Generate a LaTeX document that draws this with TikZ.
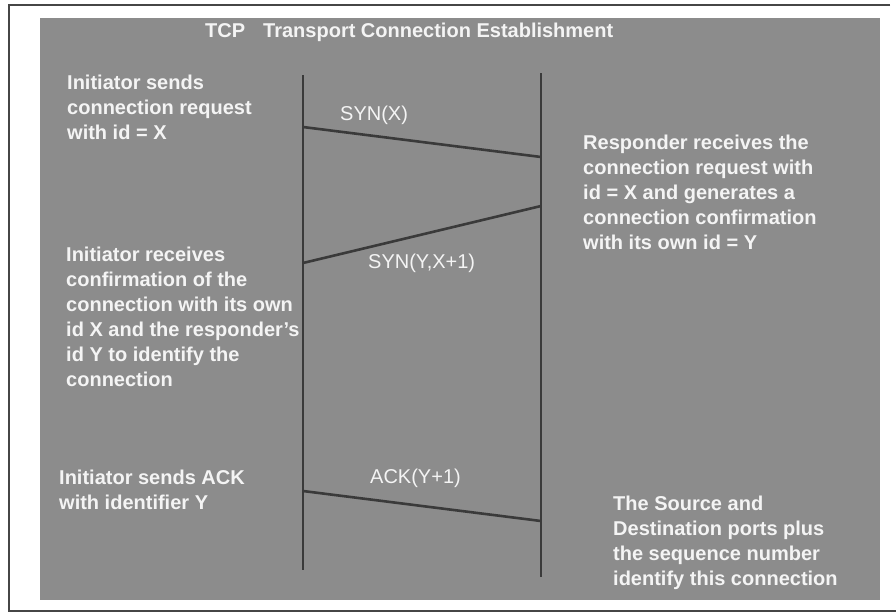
\documentclass[tikz,border=0pt]{standalone}
\usepackage{fontspec}
\setmainfont{Liberation Sans}
\definecolor{panelgray}{RGB}{140,140,140}
\definecolor{inkgray}{RGB}{58,58,58}
\definecolor{framegray}{RGB}{70,70,70}
\definecolor{textwhite}{RGB}{244,244,244}
\begin{document}
\begin{tikzpicture}[x=1pt,y=-1pt,
  txt/.style={anchor=north west, inner sep=0pt, align=left, text=textwhite,
              font=\bfseries\fontsize{20}{25}\selectfont},
  msg/.style={anchor=north west, inner sep=0pt, text=textwhite,
              font=\fontsize{20}{24}\selectfont},
  lifeline/.style={draw=inkgray, line width=2.6pt},
  signal/.style={draw=inkgray, line width=2.6pt}]
\useasboundingbox (0,0) rectangle (896,613);

% page frame and grey panel
\draw[framegray, line width=1.2pt] (890,5) -- (9,5) -- (9,611) -- (896,611);
\fill[panelgray] (40,18) rectangle (880,600);

% title
\node[txt] (title) at (205,23) {TCP\hspace{0.9em}Transport Connection Establishment};

% lifelines of initiator and responder
\coordinate (initTop) at (303,75);
\coordinate (initBot) at (303,570);
\coordinate (respTop) at (541,73);
\coordinate (respBot) at (541,577);
\draw[lifeline] (initTop) -- (initBot);
\draw[lifeline] (respTop) -- (respBot);

% message end points on the lifelines
\coordinate (synOut) at (303,127);
\coordinate (synIn)  at (541,157);
\coordinate (ackSynOut) at (541,206);
\coordinate (ackSynIn)  at (303,263);
\coordinate (ackOut) at (303,491);
\coordinate (ackIn)  at (541,521);

\draw[signal] (synOut) -- (synIn);
\draw[signal] (ackSynOut) -- (ackSynIn);
\draw[signal] (ackOut) -- (ackIn);

% message labels
\node[msg] (lblSyn) at (340,106) {SYN(X)};
\node[msg] (lblSynAck) at (368,254) {SYN(Y,X+1)};
\node[msg] (lblAck) at (370,469) {ACK(Y+1)};

% explanations
\node[txt] (noteInit1) at (67,75) {Initiator sends\\connection request\\with id = X};
\node[txt] (noteResp1) at (583,135) {Responder receives the\\connection request with\\id = X and generates a\\connection confirmation\\with its own id = Y};
\node[txt] (noteInit2) at (66,247) {Initiator receives\\confirmation of the\\connection with its own\\id X and the responder{\char"0027}s\\id Y to identify the\\connection};
\node[txt] (noteInit3) at (59,470) {Initiator sends ACK\\with identifier Y};
\node[txt] (noteResp2) at (613,496) {The Source and\\Destination ports plus\\the sequence number\\identify this connection};
\end{tikzpicture}
\end{document}
